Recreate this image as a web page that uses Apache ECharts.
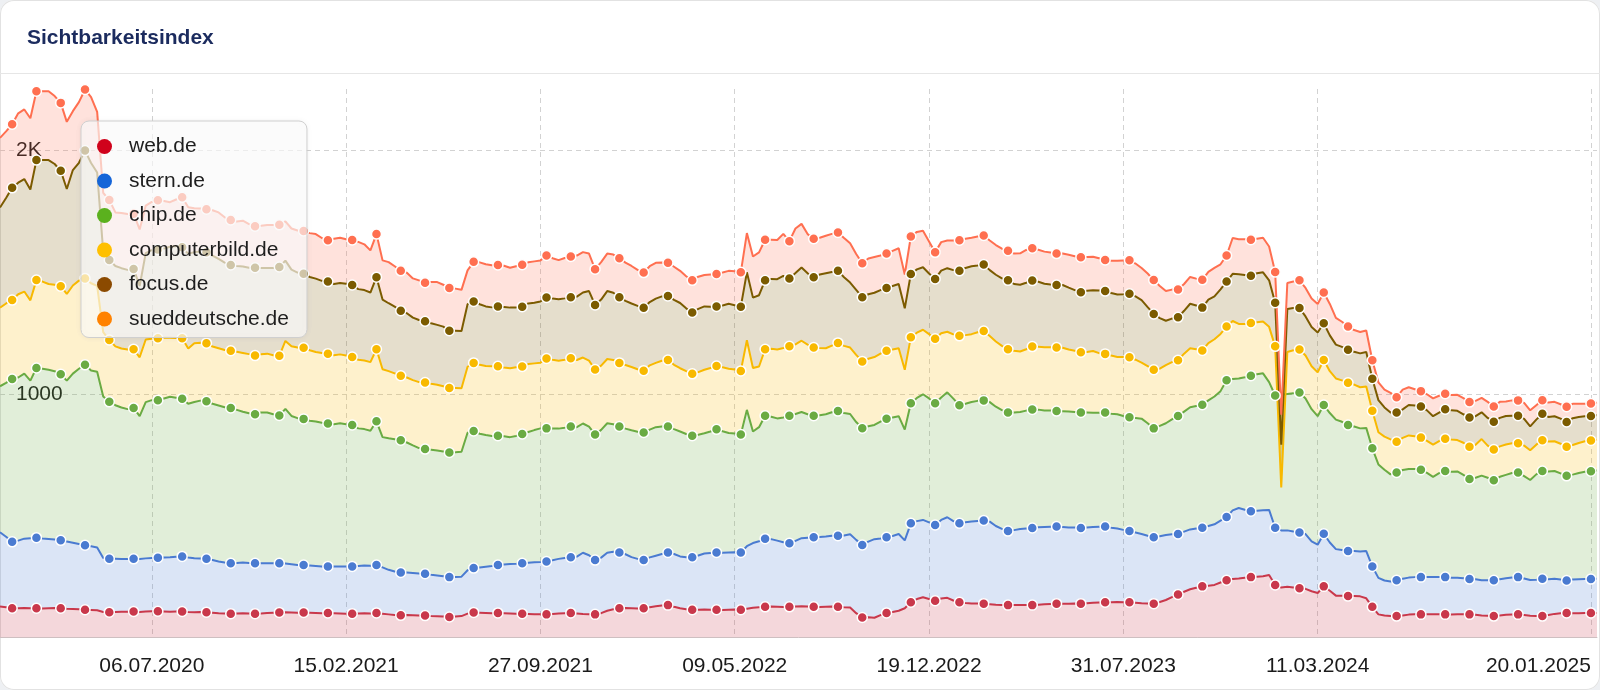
<!DOCTYPE html>
<html>
<head>
<meta charset="utf-8">
<title>Sichtbarkeitsindex</title>
<script src="https://cdn.jsdelivr.net/npm/echarts@6/dist/echarts.min.js"></script>
<style>
  html, body { margin: 0; padding: 0; background: #eef0f3; }
  #chart { width: 1600px; height: 690px; background: #fff; border-radius: 14px; overflow: hidden; box-shadow: inset 0 0 0 1px #e2e2e2; }
</style>
</head>
<body>
<div id="chart"></div>
<script>
// weekly values, first week 13.01.2020
var firstWeek = [2020, 0, 13];
var weekCount = 264;
var tickLabels = ['06.07.2020', '15.02.2021', '27.09.2021', '09.05.2022', '19.12.2022', '31.07.2023', '11.03.2024', '20.01.2025'];
var lastTick = '20.01.2025';

var webde = [
  127,124,120,120,121,120,120,119,120,121, 120,118,117,116,114,113,112,105,104,105,
  106,106,107,105,107,108,108,107,106,107, 107,105,104,105,104,102,100,99,98,99,
  100,99,98,99,101,102,103,104,103,102, 103,102,101,100,101,100,99,98,98,99,
  100,99,101,98,95,92,91,92,91,90, 90,88,87,86,84,86,88,98,103,102,
  101,100,101,100,99,98,98,97,96,95, 95,97,99,100,101,99,97,96,95,100,
  110,116,120,121,120,119,120,124,128,131, 133,126,120,116,114,114,115,114,114,113,
  114,115,114,118,122,124,126,127,126,125, 126,127,128,127,126,125,126,127,126,124,
  123,100,82,83,81,92,101,105,110,120, 145,158,165,158,151,160,163,152,145,142,
  140,140,139,137,135,134,133,133,134,133, 133,135,137,138,139,139,139,140,139,141,
  143,144,145,145,146,145,145,143,141,140, 139,146,154,166,177,188,198,204,210,213,
  216,226,235,240,242,245,248,250,252,257, 216,205,208,205,202,200,190,183,210,192,
  172,171,170,170,169,161,126,95,90,88, 88,90,94,95,95,96,95,95,95,94,
  95,95,95,93,90,89,88,90,93,94, 95,92,89,88,88,92,97,100,101,100,
  100,101,101,101
];
var sternde = [
  305,290,273,278,285,288,290,288,285,282, 279,276,272,268,265,262,258,222,219,218,
  216,216,216,217,218,219,220,222,224,225, 226,224,222,220,219,216,212,209,207,207,
  208,207,207,206,204,203,202,200,198,196, 195,194,193,192,191,192,193,194,194,195,
  196,196,197,190,183,179,176,175,174,173, 172,170,168,166,164,163,162,178,182,186,
  190,194,197,200,203,205,207,210,213,215, 217,220,224,227,229,233,251,242,223,228,
  238,236,229,221,210,204,198,205,208,212, 216,217,213,214,216,223,230,233,235,235,
  235,235,235,257,266,271,280,277,272,266, 261,270,280,283,286,288,289,291,292,295,
  301,301,298,311,323,315,311,312,315,279, 324,320,318,315,311,323,331,326,324,331,
  336,339,342,339,323,312,304,308,312,315, 317,318,317,317,317,315,313,312,311,311,
  311,311,311,306,302,297,292,288,284,278, 273,270,267,258,248,247,246,244,241,245,
  249,254,260,282,290,280,271,271,271,267, 235,235,232,230,229,225,205,198,216,198,
  191,188,185,185,184,194,166,150,144,142, 147,151,152,153,153,153,153,153,153,151,
  150,148,145,146,145,146,147,149,150,152, 153,150,147,149,153,147,144,138,133,138,
  139,139,139,140
];
var chipde = [
  600,632,669,670,678,647,697,697,695,691, 682,661,695,720,741,722,722,663,645,631,
  623,616,620,587,642,648,647,653,659,653, 648,631,641,648,647,642,641,638,638,629,
  619,615,612,619,619,612,607,635,609,603, 600,594,593,590,587,584,588,584,581,565,
  560,554,590,535,540,543,543,534,524,515, 512,513,513,512,512,512,513,565,563,549,
  541,534,531,527,521,525,531,537,543,549, 547,541,535,535,537,532,531,528,516,525,
  532,524,518,516,521,522,524,525,528,524, 518,513,513,506,499,496,494,499,506,499,
  491,488,485,560,458,469,505,503,502,513, 524,521,518,507,499,500,502,507,512,503,
  494,484,480,474,469,480,487,487,484,455, 493,506,516,509,500,503,513,503,485,487,
  491,493,493,491,490,488,487,483,480,484, 487,483,478,477,474,475,476,474,474,472,
  469,468,468,468,469,468,468,471,474,462, 447,453,459,472,485,493,502,503,505,516,
  525,532,562,540,532,544,556,560,562,525, 543,557,560,568,575,557,543,528,529,532,
  532,527,518,512,506,506,485,466,455,440, 443,447,446,444,441,427,412,427,436,436,
  437,425,411,417,430,421,411,421,425,430, 430,421,411,433,443,443,443,436,430,431,
  437,441,443,445
];
var computerbildde = [
  323,326,324,342,337,330,361,358,352,355, 362,356,362,362,355,358,352,264,254,242,
  242,245,241,242,257,252,254,249,242,245, 248,227,242,238,239,235,235,235,235,239,
  242,243,241,239,242,242,245,279,286,290, 292,290,286,287,287,283,283,282,279,282,
  282,282,296,279,276,271,265,267,268,271, 273,271,270,268,265,264,261,271,280,283,
  283,286,285,282,283,282,277,279,274,270, 287,283,279,279,280,276,271,271,267,264,
  264,264,261,261,260,257,254,264,264,270, 273,264,260,258,254,257,261,261,260,263,
  264,263,261,286,261,249,273,279,283,285, 285,286,293,286,280,276,271,274,280,276,
  273,276,274,277,279,279,279,279,279,246, 271,268,265,264,265,264,249,264,285,282,
  279,282,285,271,268,264,260,254,249,252, 258,258,260,260,261,261,255,252,248,249,
  254,245,241,239,235,242,246,239,230,235, 241,235,239,235,229,238,242,233,223,235,
  235,235,220,238,224,219,217,214,213,227, 202,-381,173,177,177,176,176,180,185,172,
  169,170,173,172,169,170,154,132,136,144, 126,132,138,135,132,132,132,132,132,132,
  129,132,133,136,150,132,126,125,125,122, 120,125,122,122,126,123,122,122,120,122,
  123,125,126,126
];
var focusde = [
  411,433,461,458,462,455,493,499,509,496, 474,431,474,484,525,494,466,330,329,330,
  330,327,330,293,355,364,365,367,374,378, 374,389,374,374,373,374,367,359,352,352,
  355,355,361,355,352,359,365,330,315,308, 304,301,301,296,296,293,293,295,296,290,
  289,286,296,286,279,274,267,264,257,255, 252,249,246,245,235,235,235,257,252,249,
  245,242,246,249,249,246,246,249,249,251, 251,251,252,252,251,260,267,286,265,271,
  279,276,270,264,261,260,258,260,264,264, 263,267,268,258,252,260,260,252,245,254,
  267,264,264,279,289,293,283,287,289,296, 279,293,301,293,289,302,308,302,296,282,
  267,267,264,265,264,261,258,261,264,252, 260,260,257,249,246,257,261,264,267,276,
  279,274,273,271,274,277,283,274,274,273, 271,267,261,258,257,258,254,249,246,251,
  249,257,258,257,257,258,261,260,257,242, 229,208,182,179,176,176,183,180,176,179,
  176,183,185,194,204,201,194,201,202,191, 179,176,176,173,170,161,161,164,151,147,
  139,138,136,135,139,142,132,132,120,110, 120,117,125,126,128,125,117,117,122,120,
  120,117,120,117,110,114,114,117,117,113, 113,110,98,103,109,101,103,103,101,110,
  107,103,101,101
];
var sueddeutschede = [
  286,274,261,285,286,293,283,283,283,279, 279,276,242,249,251,271,249,242,246,220,
  227,230,227,232,195,198,202,195,183,191, 205,191,180,177,177,186,191,186,185,183,
  188,179,170,173,176,176,173,161,169,173, 176,180,183,176,170,186,186,183,185,194,
  188,173,177,161,169,166,164,166,161,163, 158,169,176,172,176,173,169,139,163,172,
  173,173,170,169,164,169,172,169,170,169, 172,166,161,166,167,169,166,154,147,154,
  154,157,160,157,154,148,145,147,147,139, 136,136,132,132,132,132,129,132,133,135,
  135,139,141,161,169,176,167,161,161,173, 153,183,179,161,158,151,154,157,158,161,
  161,147,139,147,147,142,141,144,147,139, 154,154,150,132,109,117,114,122,126,120,
  117,119,119,122,122,122,122,125,129,135, 133,132,132,131,129,129,135,139,144,139,
  138,133,128,133,139,139,138,135,132,138, 139,132,122,119,114,110,110,110,114,114,
  117,103,107,147,144,147,148,142,142,139, 126,123,107,109,114,117,117,117,126,129,
  110,103,95,89,88,88,76,73,73,81, 63,81,73,67,63,66,73,69,63,63,
  66,66,63,63,59,66,63,66,59,63, 63,66,66,59,56,59,59,59,63,59,
  54,51,51,51
];

var seriesNames = ['web.de', 'stern.de', 'chip.de', 'computerbild.de', 'focus.de', 'sueddeutsche.de'];
var seriesValues = [webde, sternde, chipde, computerbildde, focusde, sueddeutschede];
var lineColors = ['#c9384b', '#4a7bd1', '#6aab43', '#f8b900', '#7b5b00', '#ff6f50'];
var legendColors = ['#d0021b', '#1565d8', '#5bb11e', '#ffc000', '#8b4a00', '#ff8200'];

var FONT = 'Liberation Sans';

function pad(n) { return n < 10 ? '0' + n : '' + n; }
var weeks = [];
for (var w = 0; w < weekCount; w++) {
    var d = new Date(firstWeek[0], firstWeek[1], firstWeek[2] + w * 7);
    weeks.push(pad(d.getDate()) + '.' + pad(d.getMonth() + 1) + '.' + d.getFullYear());
}

function isTick(index, value) {
    return tickLabels.indexOf(value) >= 0;
}

var series = [];
for (var i = 0; i < seriesNames.length; i++) {
    series.push({
        name: seriesNames[i],
        type: 'line',
        stack: 'total',
        stackStrategy: 'all',
        data: seriesValues[i],
        color: lineColors[i],
        clip: false,
        showAllSymbol: true,
        symbol: function (value, params) {
            return params.dataIndex % 4 === 2 ? 'circle' : 'none';  // dot every 4th week
        },
        symbolSize: 10,
        lineStyle: { width: 2, color: lineColors[i] },
        itemStyle: { color: lineColors[i], borderColor: '#fff', borderWidth: 1.5 },
        areaStyle: { color: lineColors[i], opacity: 0.2 },
        emphasis: { disabled: true },
        animation: false
    });
}

var legendData = [];
for (var j = 0; j < seriesNames.length; j++) {
    legendData.push({ name: seriesNames[j], itemStyle: { color: legendColors[j], borderWidth: 0 } });
}

var myChart = echarts.init(document.getElementById('chart'));
var option = {
    animation: false,
    title: {
        text: 'Sichtbarkeitsindex',
        left: 22,
        top: 23,
        textStyle: { fontFamily: FONT, fontSize: 21, fontWeight: 'bold', color: '#1b2b5e' }
    },
    legend: {
        orient: 'vertical',
        left: 81,
        top: 121,
        padding: [15, 18, 8, 16],
        itemWidth: 39,
        itemHeight: 15,
        itemGap: 13.5,
        icon: 'circle',
        selectedMode: false,
        backgroundColor: 'rgba(255,255,255,0.66)',
        borderColor: '#cfcfcf',
        borderWidth: 1,
        borderRadius: 8,
        shadowBlur: 6,
        shadowColor: 'rgba(0,0,0,0.08)',
        textStyle: { fontFamily: FONT, fontSize: 21, lineHeight: 20, color: '#1e1e1e' },
        data: legendData
    },
    grid: { left: 0, right: 3, top: 89, bottom: 52.5, containLabel: false, outerBoundsMode: 'none' },
    xAxis: {
        type: 'category',
        boundaryGap: false,
        data: weeks,
        axisLine: { lineStyle: { color: '#cfcfcf', width: 1 } },
        axisTick: { show: false },
        axisLabel: {
            interval: isTick,
            margin: 18,
            fontFamily: FONT,
            fontSize: 21,
            color: '#1a1a1a',
            formatter: function (value) {
                // last date is set left of its tick, like the original
                return value === lastTick ? '{r|' + value + '}{g|}' : value;
            },
            rich: {
                r: { fontFamily: FONT, fontSize: 21, color: '#1a1a1a' },
                g: { width: 105 }
            }
        },
        splitLine: { show: true, interval: isTick, lineStyle: { color: '#d2d2d2', type: [5, 4], width: 1 } }
    },
    yAxis: {
        type: 'value',
        min: 0,
        max: 2253,
        interval: 1000,
        axisLine: { show: false },
        axisTick: { show: false },
        axisLabel: {
            inside: true,
            margin: 16,
            showMinLabel: false,
            showMaxLabel: false,
            fontFamily: FONT,
            fontSize: 21,
            color: '#1a1a1a',
            formatter: function (v) {
                if (v === 2000) return '2K';
                if (v === 1000) return '1000';
                return '';
            }
        },
        splitLine: { show: true, showMinLine: false, showMaxLine: false, lineStyle: { color: '#d2d2d2', type: [5, 4], width: 1 } }
    },
    graphic: [{
        type: 'line',
        z: 100,
        silent: true,
        shape: { x1: 0, y1: 73.5, x2: 1600, y2: 73.5 },
        style: { stroke: '#e6e6e6', lineWidth: 1 }
    }],
    series: series
};
myChart.setOption(option);
</script>
</body>
</html>
